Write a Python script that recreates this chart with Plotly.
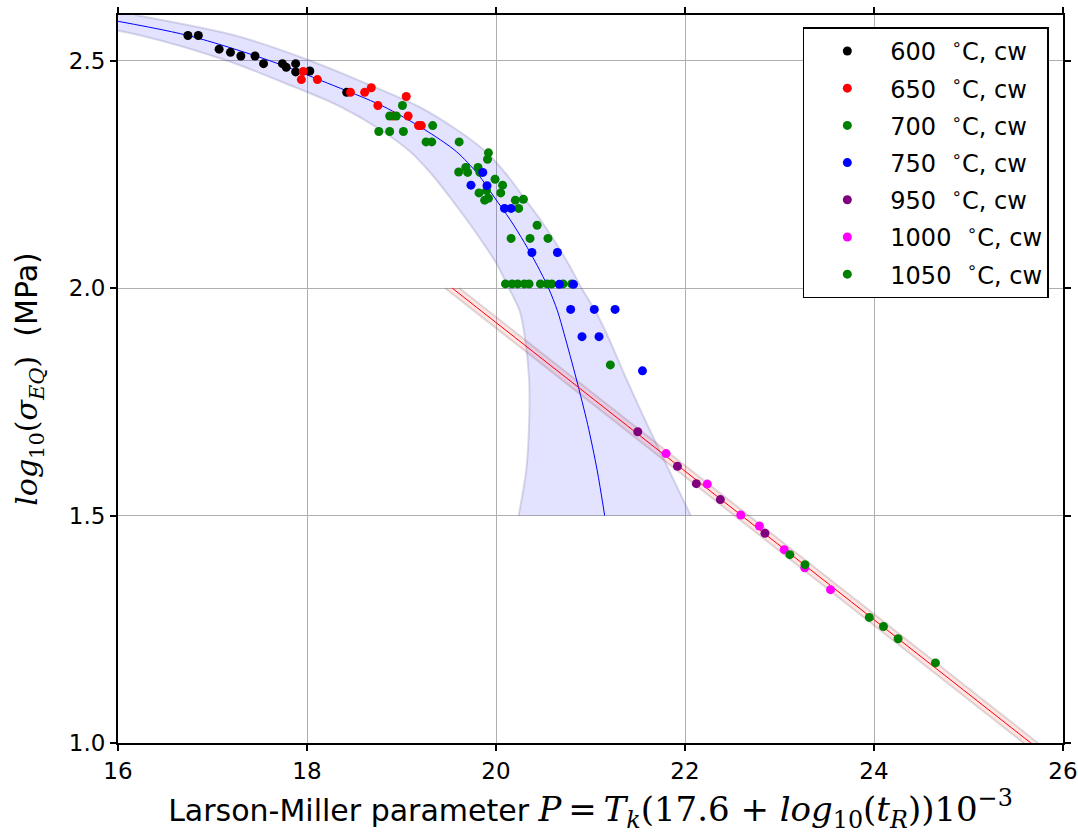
import plotly.graph_objects as go

# ---- measured creep-rupture data: (Larson-Miller parameter, log10 stress) ----
p_600 = [16.74, 16.85, 17.07, 17.19, 17.30, 17.45, 17.54, 17.74, 17.78, 17.88, 17.88, 18.03, 18.42]
s_600 = [2.555, 2.555, 2.525, 2.518, 2.510, 2.510, 2.493, 2.493, 2.485, 2.493, 2.475, 2.477, 2.430]

p_650 = [17.96, 17.94, 18.11, 18.46, 18.61, 18.68, 18.75, 19.05, 19.07, 19.18, 19.21, 18.91]
s_650 = [2.476, 2.458, 2.458, 2.430, 2.430, 2.440, 2.401, 2.421, 2.378, 2.357, 2.357, 2.378]

p_700 = [19.01, 18.875, 18.945, 18.76, 18.875, 19.02, 19.33, 19.26, 19.32, 19.61,
         19.605, 19.68, 19.70, 19.81, 19.83, 19.92, 19.91, 19.99, 20.07, 20.05,
         19.82, 19.90, 19.88, 19.92, 20.205, 20.29, 20.24, 20.435, 20.16, 20.36,
         20.55, 20.10, 20.17, 20.23, 20.30, 20.35, 20.47, 20.54, 20.59, 20.71,
         20.80, 21.21]
s_700 = [2.401, 2.378, 2.378, 2.344, 2.344, 2.344, 2.357, 2.321, 2.321, 2.321,
         2.255, 2.265, 2.254, 2.265, 2.254, 2.297, 2.283, 2.239, 2.226, 2.209,
         2.209, 2.214, 2.193, 2.197, 2.193, 2.195, 2.175, 2.138, 2.109, 2.109,
         2.109, 2.009, 2.009, 2.009, 2.009, 2.009, 2.009, 2.009, 2.009, 2.009,
         2.009, 1.831]

p_750 = [19.86, 19.735, 19.905, 20.09, 20.16, 20.38, 20.65, 20.67, 20.82,
         20.79, 21.04, 21.26, 20.91, 21.09, 21.55]
s_750 = [2.254, 2.226, 2.225, 2.175, 2.175, 2.078, 2.078, 2.008, 2.008,
         1.953, 1.953, 1.953, 1.893, 1.893, 1.818]

p_950 = [21.50, 21.92, 22.12, 22.374, 22.846]
s_950 = [1.684, 1.608, 1.570, 1.535, 1.461]

p_1000 = [21.80, 22.236, 22.59, 22.787, 23.05, 23.267, 23.54]
s_1000 = [1.636, 1.569, 1.501, 1.477, 1.425, 1.385, 1.337]

p_1050 = [23.11, 23.27, 23.95, 24.10, 24.255, 24.65]
s_1050 = [1.414, 1.392, 1.276, 1.256, 1.229, 1.176]

# ---- low-temperature fit (P as a function of log stress) and its scatter band ----
v_fit = [2.60, 2.555, 2.50, 2.45, 2.40, 2.35, 2.30, 2.25, 2.20, 2.15,
         2.10, 2.05, 2.00, 1.95, 1.90, 1.80, 1.70, 1.60, 1.50]
p_fit = [15.63, 16.74, 17.60, 18.22, 18.80, 19.23, 19.58, 19.81, 19.98, 20.15,
         20.30, 20.435, 20.555, 20.65, 20.72, 20.85, 20.97, 21.07, 21.15]
p_band_lo = [15.08, 16.24, 17.15, 17.77, 18.34, 18.76, 19.09, 19.32, 19.51, 19.69,
             19.86, 20.015, 20.135, 20.25, 20.30, 20.35, 20.35, 20.32, 20.24]
p_band_hi = [16.18, 17.24, 18.03, 18.62, 19.17, 19.57, 19.89, 20.11, 20.29, 20.47,
             20.63, 20.775, 20.905, 21.05, 21.17, 21.38, 21.60, 21.83, 22.06]

# ---- high-temperature linear fit with its band ----
v_lin = [2.0, 1.0]
p_lin = [19.535, 25.66]
p_lin_lo = [19.46, 25.585]
p_lin_hi = [19.61, 25.735]

series = [
    ("600", p_600, s_600, "black"),
    ("650", p_650, s_650, "red"),
    ("700", p_700, s_700, "green"),
    ("750", p_750, s_750, "blue"),
    ("950", p_950, s_950, "purple"),
    ("1000", p_1000, s_1000, "magenta"),
    ("1050", p_1050, s_1050, "green"),
]

fig = go.Figure()

# blue scatter band
band_edge = dict(color="rgba(90,90,150,0.22)", width=2, shape="spline", smoothing=0.8)
fig.add_trace(go.Scatter(x=p_band_lo, y=v_fit, mode="lines", line=band_edge,
                         showlegend=False, hoverinfo="skip"))
fig.add_trace(go.Scatter(x=p_band_hi, y=v_fit, mode="lines", line=band_edge,
                         fill="tonextx", fillcolor="rgba(0,0,255,0.11)",
                         showlegend=False, hoverinfo="skip"))

# red band
red_edge = dict(color="rgba(120,90,90,0.22)", width=2)
fig.add_trace(go.Scatter(x=p_lin_lo, y=v_lin, mode="lines", line=red_edge,
                         showlegend=False, hoverinfo="skip"))
fig.add_trace(go.Scatter(x=p_lin_hi, y=v_lin, mode="lines", line=red_edge,
                         fill="tonextx", fillcolor="rgba(255,0,0,0.10)",
                         showlegend=False, hoverinfo="skip"))

# fit lines
fig.add_trace(go.Scatter(x=p_fit, y=v_fit, mode="lines",
                         line=dict(color="blue", width=1, shape="spline", smoothing=0.8),
                         showlegend=False, hoverinfo="skip"))
fig.add_trace(go.Scatter(x=p_lin, y=v_lin, mode="lines",
                         line=dict(color="red", width=1),
                         showlegend=False, hoverinfo="skip"))

for temp, px, sy, col in series:
    fig.add_trace(go.Scatter(
        x=px, y=sy, mode="markers",
        name=f"{temp}  <sup>∘</sup>C, cw",
        legendgroup=temp,
        marker=dict(color=col, size=9, line=dict(width=0)),
    ))

serif = "font-family:'DejaVu Serif'"
math = serif + ";font-style:italic"
thin = "\u2009"
m = "font-size:34px"
x_title = ("Larson-Miller parameter "
           f"<span style=\"{math};{m}\">P</span>"
           f"<span style=\"{serif};{m}\">{thin}={thin}</span>"
           f"<span style=\"{math};{m}\">T<sub>k</sub></span>"
           f"<span style=\"{serif};{m}\">(17.6 + </span>"
           f"<span style=\"{math};{m}\">log</span>"
           f"<span style=\"{serif};{m}\"><sub>10</sub>(</span>"
           f"<span style=\"{math};{m}\">t<sub>R</sub></span>"
           f"<span style=\"{serif};{m}\">))10<sup>−3</sup></span>")
y_title = (f"<span style=\"{math}\">log</span><span style=\"{serif}\"><sub>10</sub>(</span>"
           f"<span style=\"{math}\">σ<sub>EQ</sub></span>"
           f"<span style=\"{serif}\">)</span>  (MPa)")

axis_common = dict(
    showline=True, linecolor="black", linewidth=2, mirror="ticks",
    ticks="outside", ticklen=6, tickwidth=1.5, tickcolor="black",
    showgrid=True, gridcolor="#b0b0b0", gridwidth=1,
    zeroline=False, tickfont=dict(size=23, color="black"),
)

fig.update_xaxes(range=[16, 26], dtick=2, tick0=16,
                 title=dict(text=x_title, font=dict(size=30, color="black"), standoff=17),
                 **axis_common)
fig.update_yaxes(range=[1.0, 2.6], tickvals=[1.0, 1.5, 2.0, 2.5], tickformat=".1f",
                 title=dict(text=y_title, font=dict(size=30, color="black"), standoff=22),
                 **axis_common)

fig.update_layout(
    width=1078, height=838,
    margin=dict(l=118, r=15, t=15, b=95, autoexpand=False),
    paper_bgcolor="white", plot_bgcolor="white",
    font=dict(family="DejaVu Sans", color="black"),
    legend=dict(
        x=0.985, y=0.983, xanchor="right", yanchor="top",
        bgcolor="white", bordercolor="black", borderwidth=1.5,
        font=dict(size=24, color="black"),
        itemwidth=76, tracegroupgap=3,
    ),
    showlegend=True,
)

fig.write_html("out.html")
